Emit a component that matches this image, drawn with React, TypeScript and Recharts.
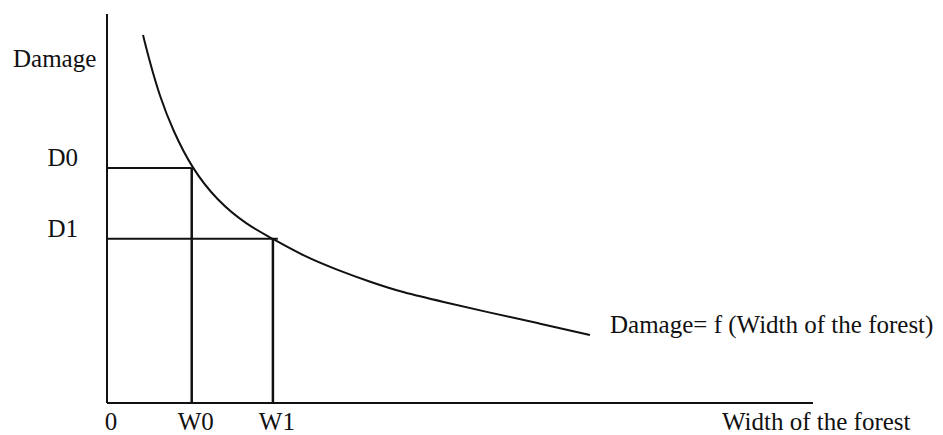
import { LineChart, Line, XAxis, YAxis, ReferenceLine } from "recharts";

// damage curve (x = width of forest, y = damage)
const widthValues = [5.1, 6.1, 7.5, 9.3, 12.0, 15.6, 19.8, 23.5, 27.8, 32.6, 37.3, 41.9, 47.6, 53.8, 60.9, 68.4];
const damageValues = [94.6, 87.4, 78.7, 70.2, 60.4, 52.0, 45.8, 42.2, 37.8, 34.2, 31.1, 28.4, 26.0, 23.4, 20.6, 17.5];

const xTicks = [0, 12.0, 23.5];
const xTickLabels = ["0", "W0", "W1"];
const yTicks = [60.4, 42.2];
const yTickLabels = ["D0", "D1"];

const W0 = 12.0;
const W1 = 23.5;
const D0 = 60.4;
const D1 = 42.2;
const D1_END = 24.2;

const data = widthValues.map((w, i) => ({ w, d: damageValues[i] }));

const FONT = "'Liberation Serif', 'Times New Roman', serif";
const INK = "#111";

const XTick = (props: any) => {
  const { x, payload } = props;
  const i = xTicks.indexOf(payload.value);
  return (
    <text x={x + 4} y={403 + 27} textAnchor="middle" fontFamily={FONT} fontSize={25} fill={INK}>
      {xTickLabels[i]}
    </text>
  );
};

const YTick = (props: any) => {
  const { y, payload } = props;
  const i = yTicks.indexOf(payload.value);
  return (
    <text x={78} y={y - 2} textAnchor="end" fontFamily={FONT} fontSize={25} fill={INK}>
      {yTickLabels[i]}
    </text>
  );
};

export default function App() {
  return (
    <div style={{ position: "fixed", left: 0, top: 0, width: 943, height: 435, background: "#fff" }}>
      <LineChart
        width={943}
        height={435}
        data={data}
        margin={{ top: 14, right: 130, bottom: 31, left: 106 }}
      >
        <XAxis
          type="number"
          dataKey="w"
          domain={[0, 100]}
          ticks={xTicks}
          tick={<XTick />}
          tickLine={false}
          tickSize={0}
          tickMargin={0}
          height={1}
          axisLine={{ stroke: INK, strokeWidth: 2 }}
          allowDataOverflow
        />
        <YAxis
          type="number"
          domain={[0, 100]}
          ticks={yTicks}
          tick={<YTick />}
          tickLine={false}
          tickSize={0}
          tickMargin={0}
          width={1}
          axisLine={{ stroke: INK, strokeWidth: 2 }}
          allowDataOverflow
        />
        <ReferenceLine segment={[{ x: 0, y: D0 }, { x: W0, y: D0 }]} stroke={INK} strokeWidth={2} ifOverflow="visible" />
        <ReferenceLine segment={[{ x: W0, y: 0 }, { x: W0, y: D0 }]} stroke={INK} strokeWidth={2.5} ifOverflow="visible" />
        <ReferenceLine segment={[{ x: 0, y: D1 }, { x: D1_END, y: D1 }]} stroke={INK} strokeWidth={2} ifOverflow="visible" />
        <ReferenceLine segment={[{ x: W1, y: 0 }, { x: W1, y: D1 }]} stroke={INK} strokeWidth={2.5} ifOverflow="visible" />
        <Line
          type="basis"
          dataKey="d"
          stroke={INK}
          strokeWidth={2}
          dot={false}
          activeDot={false}
          isAnimationActive={false}
        />
        <text x={13} y={67} fontFamily={FONT} fontSize={25} fill={INK}>Damage</text>
        <text x={610} y={333} fontFamily={FONT} fontSize={25} fill={INK}>Damage= f (Width of the forest)</text>
        <text x={722} y={430} fontFamily={FONT} fontSize={25} fill={INK}>Width of the forest</text>
      </LineChart>
    </div>
  );
}
